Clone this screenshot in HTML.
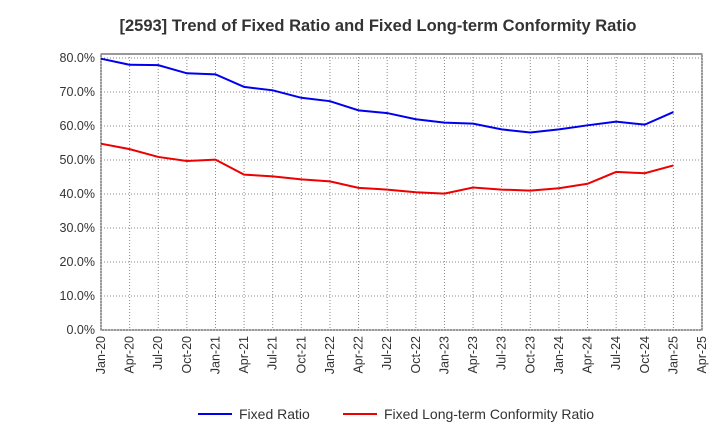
<!DOCTYPE html>
<html><head><meta charset="utf-8"><style>
body{margin:0;background:#fff;font-family:"Liberation Sans",sans-serif}
svg text{font-family:"Liberation Sans",sans-serif}
</style></head><body>
<svg id="c" width="720" height="440">
<text x="378" y="31" text-anchor="middle" font-size="16.5" font-weight="bold" fill="#333">[2593]  Trend of Fixed Ratio and Fixed Long-term Conformity Ratio</text>
<g id="grid"></g><g id="axes"></g><g id="series"></g>
<g>
<line x1="198" y1="414" x2="232" y2="414" stroke="#0000ee" stroke-width="2"/>
<text x="239" y="419" font-size="14" fill="#333">Fixed Ratio</text>
<line x1="343" y1="414" x2="377" y2="414" stroke="#ee0000" stroke-width="2"/>
<text x="384" y="419" font-size="14" fill="#333">Fixed Long-term Conformity Ratio</text>
</g>
</svg>
<script>
const xLabels=["Jan-20","Apr-20","Jul-20","Oct-20","Jan-21","Apr-21","Jul-21","Oct-21","Jan-22","Apr-22","Jul-22","Oct-22","Jan-23","Apr-23","Jul-23","Oct-23","Jan-24","Apr-24","Jul-24","Oct-24","Jan-25","Apr-25"];
const yTicks=[0,10,20,30,40,50,60,70,80];
const fixedRatio=[79.8,78.0,77.9,75.5,75.2,71.5,70.5,68.3,67.3,64.6,63.8,62.0,61.0,60.7,59.0,58.1,59.0,60.2,61.3,60.4,64.1];
const conformityRatio=[54.8,53.2,50.9,49.7,50.1,45.7,45.2,44.3,43.7,41.8,41.3,40.5,40.1,41.9,41.3,41.0,41.7,43.0,46.5,46.1,48.4];
const NS="http://www.w3.org/2000/svg";
const L=101,R=702,T=54,B=330;
const xs=i=>L+i*(R-L)/(xLabels.length-1);
const ys=v=>B-v*(B-58)/80;
function mk(p,t,a){const e=document.createElementNS(NS,t);for(const k in a)e.setAttribute(k,a[k]);document.getElementById(p).appendChild(e);return e;}
const bg=mk("grid","rect",{x:L,y:T,width:R-L,height:B-T,fill:"none",stroke:"#333"});


yTicks.forEach(v=>{
 const g=mk("grid","line",{x1:L,x2:R,y1:ys(v),y2:ys(v),stroke:"#888","stroke-dasharray":"1,2"});
 
 
 const t=mk("axes","text",{x:L-6,y:ys(v)+4,"text-anchor":"end","font-size":"12.5",fill:"#333"});
 t.textContent=v.toFixed(1)+"%";
 
 
});
xLabels.forEach((s,i)=>{
 const x=xs(i);
 const g=mk("grid","line",{x1:x,x2:x,y1:T,y2:B,stroke:"#888","stroke-dasharray":"1,2"});
 
 
 const t=mk("axes","text",{x:x+4,y:B+6,"text-anchor":"end","font-size":"12.5",fill:"#333",transform:`rotate(-90 ${x+4} ${B+6})`});
 t.textContent=s;
 
 
});
function line(d,c,n){
 const p=mk("series","polyline",{points:d.map((v,i)=>xs(i)+","+ys(v)).join(" "),fill:"none",stroke:c,"stroke-width":2});
 
 
}
line(fixedRatio,"#0000ee","fixed-ratio-line");
line(conformityRatio,"#ee0000","conformity-ratio-line");
</script>
</body></html>
